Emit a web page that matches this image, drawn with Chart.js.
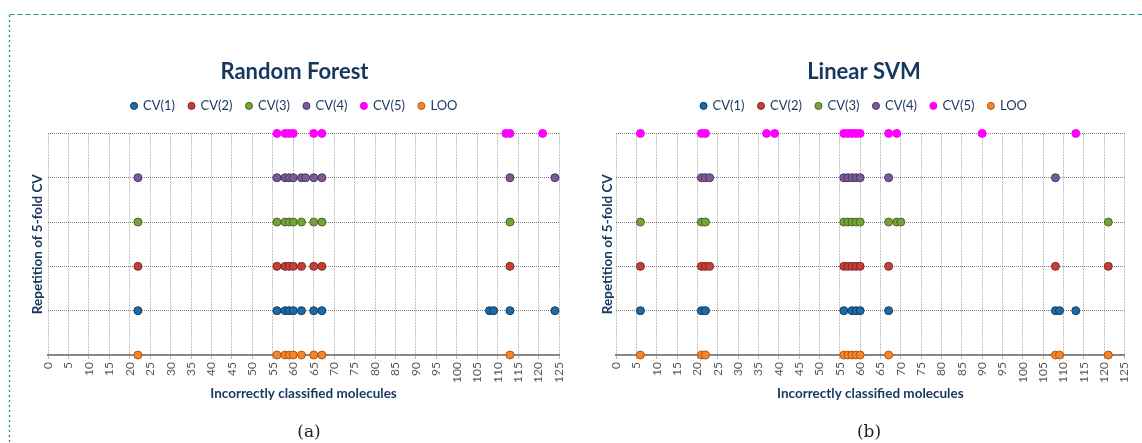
<!DOCTYPE html>
<html><head><meta charset="utf-8">
<script src="https://cdn.jsdelivr.net/npm/chart.js@4/dist/chart.umd.min.js"></script>
<style>
html,body{margin:0;padding:0;background:#fff;}
#wrap{position:relative;width:1142px;height:443px;overflow:hidden;}
canvas{position:absolute;top:0;}
#rf{left:0;}
#svm{left:580px;}
.cap{position:absolute;top:421px;font-family:'DejaVu Serif',serif;font-size:17px;color:#222;transform:translateX(-50%);}
</style></head>
<body><div id="wrap">
<svg width="1142" height="443" style="position:absolute;left:0;top:0">
<line x1="9.5" y1="14.5" x2="1142" y2="14.5" stroke="#2a9a9a" stroke-width="1" stroke-dasharray="5,3"/>
<line x1="9.5" y1="15" x2="9.5" y2="443" stroke="#1f8a8a" stroke-width="1.3" stroke-dasharray="2,3"/>
</svg>
<canvas id="rf" width="580" height="443"></canvas>
<canvas id="svm" width="562" height="443"></canvas>
<div class="cap" style="left:309px">(a)</div>
<div class="cap" style="left:869px">(b)</div>
</div>
<script>
// Series names and row (repetition) each series sits on
const seriesNames = ['CV(1)', 'CV(2)', 'CV(3)', 'CV(4)', 'CV(5)', 'LOO'];
const seriesRows  = [1, 2, 3, 4, 5, 0];

// Random Forest: incorrectly classified molecules per run
const rfCV1 = [22, 56, 58, 59, 60, 62, 65, 67, 108, 109, 113, 124];
const rfCV2 = [22, 56, 58, 59, 60, 62, 65, 67, 113];
const rfCV3 = [22, 56, 58, 59, 60, 62, 65, 67, 113];
const rfCV4 = [22, 56, 58, 59, 60, 62, 63, 65, 67, 113, 124];
const rfCV5 = [56, 58, 59, 60, 65, 67, 112, 113, 121];
const rfLOO = [22, 56, 58, 59, 60, 62, 65, 67, 113];

// Linear SVM
const svmCV1 = [6, 21, 22, 56, 58, 59, 60, 67, 108, 109, 113];
const svmCV2 = [6, 21, 22, 23, 56, 57, 58, 59, 60, 67, 108, 121];
const svmCV3 = [6, 21, 22, 56, 57, 58, 59, 60, 67, 69, 70, 121];
const svmCV4 = [21, 22, 23, 56, 57, 58, 59, 60, 67, 108];
const svmCV5 = [6, 21, 22, 37, 39, 56, 57, 58, 59, 60, 67, 69, 90, 113];
const svmLOO = [6, 21, 22, 56, 57, 58, 59, 60, 67, 108, 109, 121];

// x axis range / tick step
const xMin = 0, xMax = 125, xStep = 5;

const fills   = ['#1f6aa5', '#c0403a', '#77a13c', '#7a5a98', '#ff00ff', '#f5842a'];
const borders = ['#0e3c60', '#8a2522', '#4c6a22', '#4b3564', '#ff00ff', '#b05a14'];
const navy = '#17375e';

function build(id, titleText, xs, padL, padR, yW) {
  const datasets = seriesNames.map((name, i) => ({
    label: name,
    data: xs[i].map(x => ({x: x, y: seriesRows[i]})),
    backgroundColor: fills[i],
    borderColor: borders[i],
    borderWidth: 1,
    pointRadius: 4,
    pointHoverRadius: 4,
    showLine: false,
    clip: false
  }));
  new Chart(document.getElementById(id), {
    type: 'scatter',
    data: {datasets},
    options: {
      responsive: false,
      animation: false,
      devicePixelRatio: 1,
      events: [],
      layout: {padding: {left: padL, right: padR, top: 0, bottom: 38}},
      plugins: {
        title: {display: true, text: titleText, color: navy,
                font: {family: 'Lato', size: 22, weight: 'bold'}, padding: {top: 59, bottom: 0}},
        legend: {position: 'top',
                 labels: {usePointStyle: true, pointStyle: 'circle', boxWidth: 5, boxHeight: 5,
                          padding: 14, color: navy, font: {family: 'Lato', size: 13}}},
        tooltip: {enabled: false}
      },
      scales: {
        x: {type: 'linear', position: 'bottom', min: xMin, max: xMax,
            ticks: {stepSize: xStep, autoSkip: false, maxRotation: 90, minRotation: 90,
                    color: '#595959', font: {family: 'Lato', size: 12}, padding: 3},
            grid: {color: '#bdbdbd', lineWidth: 1, tickLength: 4},
            border: {color: '#868686', width: 2, dash: [2, 1]},
            title: {display: true, text: 'Incorrectly classified molecules', color: navy,
                    font: {family: 'Lato', size: 13.5, weight: 'bold'}, padding: {top: 0, bottom: 3}},
            afterFit: s => { s.height = 50; }},
        spacer: {type: 'linear', position: 'top', display: true,
                 ticks: {display: false}, grid: {display: false}, border: {display: false},
                 afterFit: s => { s.height = 11; }},
        y: {type: 'linear', min: 0, max: 5,
            ticks: {display: false, stepSize: 1},
            grid: {color: '#7f7f7f', lineWidth: 1, drawTicks: false},
            border: {display: false, dash: [1, 1]},
            title: {display: true, text: 'Repetition of 5-fold CV', color: navy,
                    font: {family: 'Lato', size: 13.5, weight: 'bold'}, padding: {top: 0, bottom: 0}},
            afterFit: s => { s.width = yW; }}
      }
    }
  });
}

build('rf', 'Random Forest', [rfCV1, rfCV2, rfCV3, rfCV4, rfCV5, rfLOO], 30, 21, 18);
build('svm', 'Linear SVM', [svmCV1, svmCV2, svmCV3, svmCV4, svmCV5, svmLOO], 20, 14, 16);
</script>
</body></html>
